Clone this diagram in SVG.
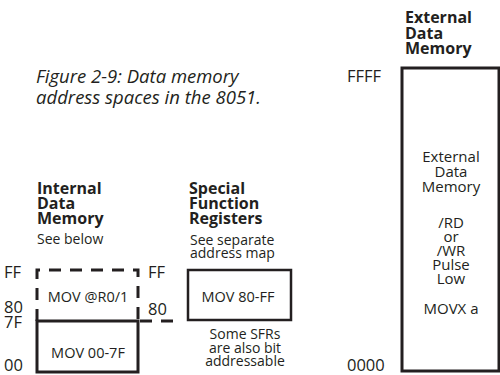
<svg xmlns="http://www.w3.org/2000/svg" width="500" height="375" viewBox="0 0 500 375">
<style>
text{font-family:"Open Sans","Noto Sans",sans-serif;fill:#231f20}
.cap{font-size:18.5px;font-style:italic}
.hd{font-size:16px;font-weight:bold}
.sm{font-size:14px}
.lb{font-size:14.5px}
.ex{font-size:15px}
.addr{font-size:16.5px}
.c{text-anchor:middle}
.box{fill:none;stroke:#231f20;stroke-width:3}
.dash{fill:none;stroke:#231f20;stroke-width:3;stroke-dasharray:12 9}
</style>
<rect width="500" height="375" fill="#fff"/>
<g id="caption">
<text class="cap" x="36" y="83">Figure 2-9: Data memory</text>
<text class="cap" x="36" y="104">address spaces in the 8051.</text>
</g>
<g id="internal">
<text class="hd" x="37" y="194">Internal</text>
<text class="hd" x="37" y="209">Data</text>
<text class="hd" x="37" y="224">Memory</text>
<text class="sm" x="37" y="244">See below</text>
<text class="addr" x="4" y="278">FF</text>
<text class="addr" x="4" y="313">80</text>
<text class="addr" x="4" y="328">7F</text>
<text class="addr" x="4" y="371">00</text>
</g>
<g id="upper-internal">
<path class="dash" d="M37,321 V270 H138 V321"/>
<text class="lb c" x="88" y="302">MOV @R0/1</text>
</g>
<g id="lower-internal">
<rect class="box" x="37" y="321" width="101" height="51"/>
<text class="lb c" x="88" y="358">MOV 00-7F</text>
</g>
<g id="sfr">
<text class="hd" x="189" y="194">Special</text>
<text class="hd" x="189" y="209">Function</text>
<text class="hd" x="189" y="224">Registers</text>
<text class="sm" x="190" y="245">See separate</text>
<text class="sm" x="190" y="258">address map</text>
<text class="addr" x="148" y="278">FF</text>
<text class="addr" x="148" y="315">80</text>
<rect x="188" y="270" width="103" height="50" fill="none" stroke="#231f20" stroke-width="2.5"/>
<text class="lb c" x="238" y="302">MOV 80-FF</text>
<text class="sm c" x="245" y="339">Some SFRs</text>
<text class="sm c" x="245" y="352.5">are also bit</text>
<text class="sm c" x="245" y="366">addressable</text>
</g>
<g id="external">
<text class="hd" x="405" y="23">External</text>
<text class="hd" x="405" y="38.5">Data</text>
<text class="hd" x="405" y="54">Memory</text>
<text class="addr" x="347" y="82">FFFF</text>
<text class="addr" x="347" y="371">0000</text>
<rect class="box" x="402" y="68" width="97" height="303"/>
<text class="ex c" x="451" y="162">External</text>
<text class="ex c" x="451" y="177">Data</text>
<text class="ex c" x="451" y="192">Memory</text>
<text class="ex c" x="451" y="228">/RD</text>
<text class="ex c" x="451" y="242">or</text>
<text class="ex c" x="451" y="256">/WR</text>
<text class="ex c" x="451" y="270">Pulse</text>
<text class="ex c" x="451" y="284">Low</text>
<text class="ex c" x="451" y="314">MOVX a</text>
</g>
<g id="connectors">
<path class="dash" d="M140,321 H179"/>
</g>
</svg>
